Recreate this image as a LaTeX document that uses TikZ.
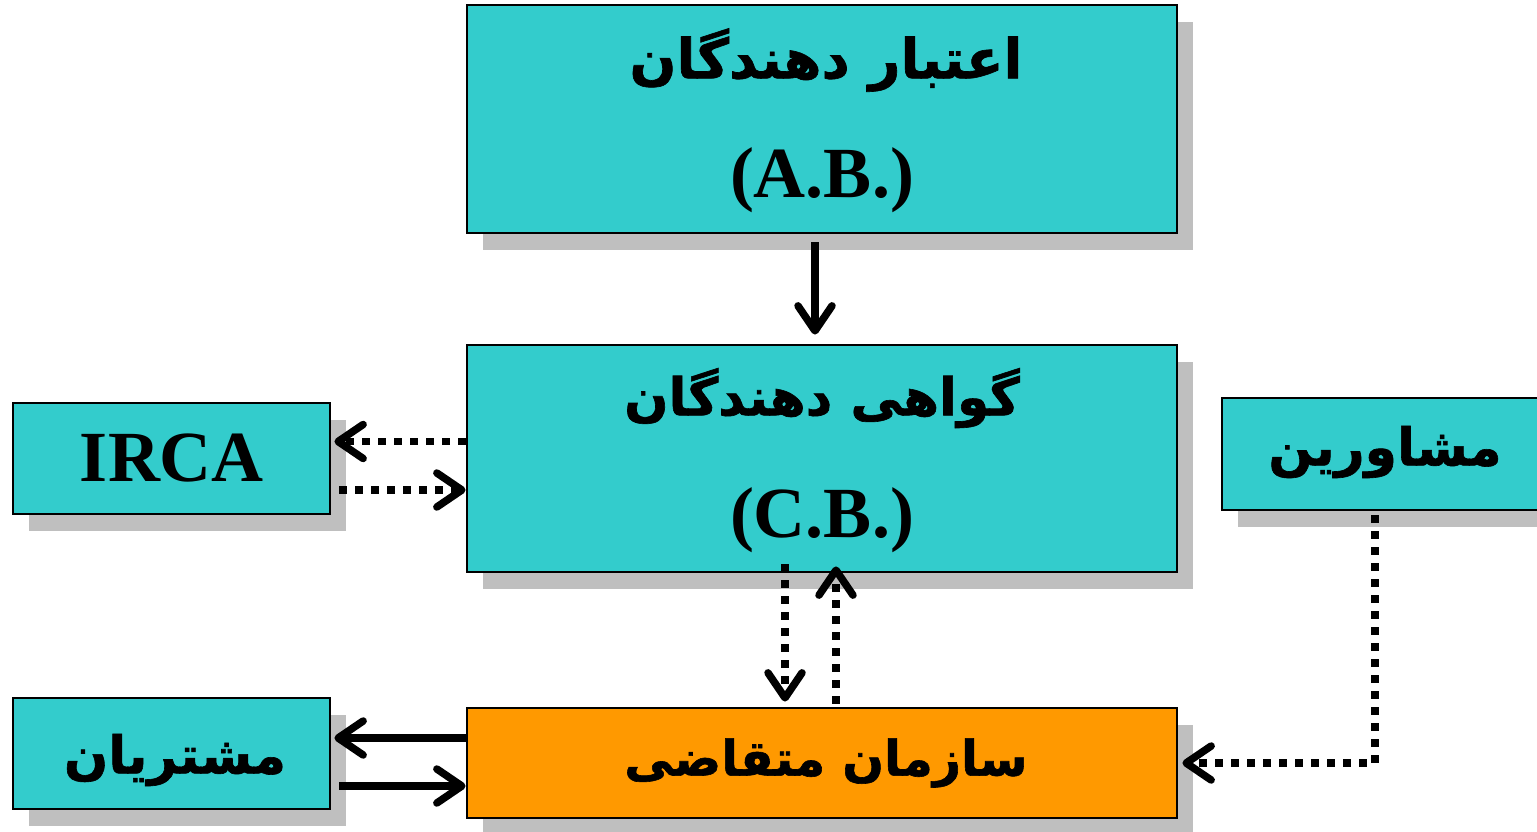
\documentclass[tikz,border=0pt]{standalone}
\usepackage{fontspec}
\setmainfont{Liberation Serif}
\newfontfamily\fafont[Script=Arabic, BoldFeatures={FakeBold=1.2}]{DejaVu Sans}
\TeXXeTstate=1
\usetikzlibrary{arrows.meta,shadows,calc}
\definecolor{boxcyan}{HTML}{33CCCC}
\definecolor{boxorange}{HTML}{FF9900}
\definecolor{shade}{HTML}{BFBFBF}
% Persian label: optional size, right-to-left
\newcommand{\fa}[2][52]{{\fafont\bfseries\fontsize{#1}{62}\selectfont\beginR #2\endR}}
\newcommand{\la}[1]{{\bfseries\fontsize{72}{80}\selectfont #1}}
\begin{document}
\begin{tikzpicture}[x=1pt,y=-1pt,
  box/.style={draw=black, line width=2.8pt, fill=boxcyan, inner sep=0pt,
    general shadow={fill=shade, draw=none, shadow xshift=16pt, shadow yshift=-17pt}},
  tip/.style={-{Straight Barb[length=25pt,width=34pt,round]}},
  solidarrow/.style={tip, line width=7.5pt},
  dotarrow/.style={tip, line width=7.5pt, dash pattern=on 7.5pt off 8.5pt},
  txt/.style={inner sep=0pt}]
\useasboundingbox (0,0) rectangle (1537,832);

% boxes
\node[box, minimum width=710pt, minimum height=228pt] (ab) at (822,119) {};
\node[box, minimum width=710pt, minimum height=227pt] (cb) at (822,458.5) {};
\node[box, minimum width=317pt, minimum height=111pt] (irca) at (171.5,458.5) {};
\node[box, minimum width=316pt, minimum height=112pt] (adv) at (1380,454) {};
\node[box, minimum width=317pt, minimum height=111pt] (cust) at (171.5,753.5) {};
\node[box, fill=boxorange, minimum width=710pt, minimum height=110pt] (org) at (822,763) {};

% labels
\node[txt] (abfa) at (826,60) {\fa[55]{اعتبار دهندگان}};
\node[txt] (abla) at (822,180) {\la{(A.B.)}};
\node[txt] (cbfa) at (822,398) {\fa{گواهی دهندگان}};
\node[txt] (cbla) at (822,520) {\la{(C.B.)}};
\node[txt] (ircala) at (172,458) {\la{IRCA}};
\node[txt] (advfa) at (1385,452) {\fa{مشاورین}};
\node[txt] (custfa) at (175,760) {\fa{مشتریان}};
\node[txt] (orgfa) at (826,763) {\fa[49]{سازمان متقاضی}};

% connectors
\draw[solidarrow] ($(ab.south)+(-7,8)$) -- ($(cb.north)+(-7,-9)$);
\draw[dotarrow] ($(cb.west)+(0,-17)$) -- ($(irca.east)+(3,-17)$);
\draw[dotarrow] ($(irca.east)+(8,31.5)$) -- ($(cb.west)+(0,31.5)$);
\draw[dotarrow] ($(cb.south)+(-37,-9)$) -- ($(org.north)+(-37,-5)$);
\draw[dotarrow] ($(org.north)+(14,-3)$) -- ($(cb.south)+(14,-7)$);
\draw[dotarrow] ($(adv.south)+(-5,4)$) |- ($(org.east)+(4,0)$);
\draw[solidarrow] ($(org.west)+(0,-25)$) -- ($(org.west -| cust.east)+(3,-25)$);
\draw[solidarrow] ($(org.west -| cust.east)+(8,23)$) -- ($(org.west)+(0,23)$);
\end{tikzpicture}
\end{document}
